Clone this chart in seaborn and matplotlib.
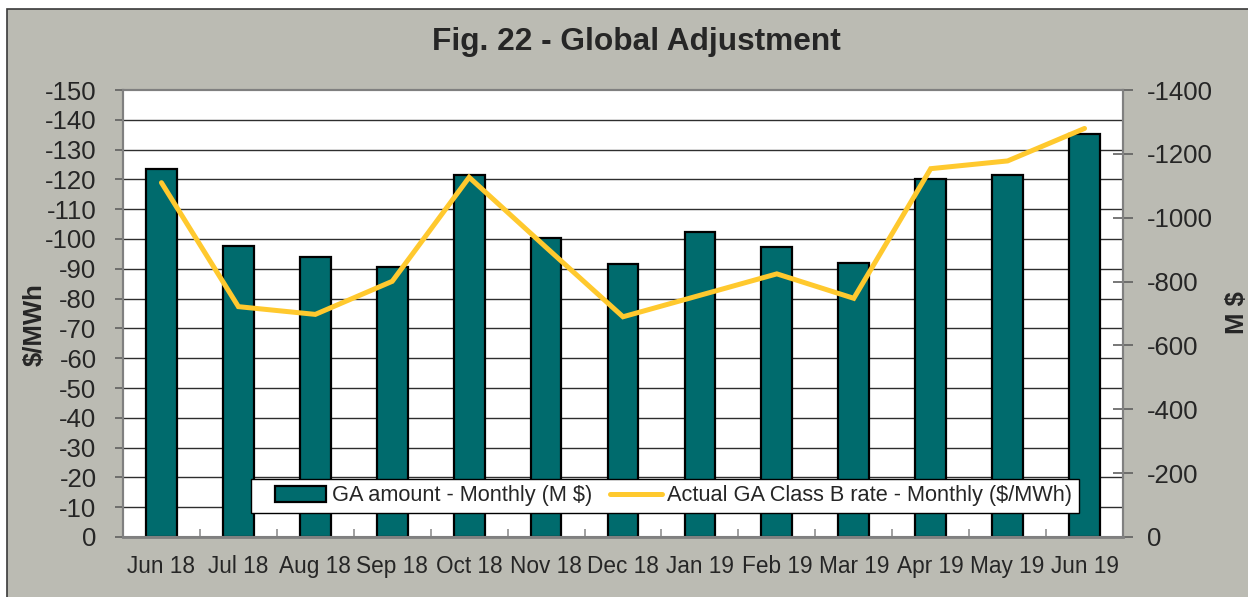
import numpy as np
import pandas as pd
import seaborn as sns
import matplotlib.pyplot as plt
from matplotlib.patches import Patch, Rectangle
from matplotlib.lines import Line2D
from matplotlib.legend_handler import HandlerPatch, HandlerLine2D

months = ['Jun 18', 'Jul 18', 'Aug 18', 'Sep 18', 'Oct 18', 'Nov 18', 'Dec 18',
          'Jan 19', 'Feb 19', 'Mar 19', 'Apr 19', 'May 19', 'Jun 19']
ga_amount = [-1152, -912, -877, -846, -1134, -936, -854, -956, -908, -858, -1120, -1133, -1262]
ga_rate = [-118.9, -77.3, -74.7, -85.8, -120.7, -97.2, -73.9, -81.1, -88.3, -80.1, -123.6, -126.2, -137.1]
left_ticks = list(range(0, -151, -10))
right_ticks = list(range(0, -1401, -200))

teal = '#006B6D'
gold = '#FFC92E'
bg = '#BBBBB3'

sns.set_style('white')
plt.rcParams['font.family'] = ['Liberation Sans', 'DejaVu Sans']

fig = plt.figure(figsize=(12.48, 5.97), dpi=100)
fig.patch.set_facecolor('white')
fig.add_artist(Rectangle((7 / 1248, -0.01), 1.1, (597 - 9) / 597 + 0.01,
                         transform=fig.transFigure, facecolor=bg,
                         edgecolor='#3a3a3a', linewidth=1.2, zorder=-10))

ax_bar = fig.add_axes([123 / 1248, 60 / 597, 1000 / 1248, 447 / 597])
ax_bar.set_facecolor('white')

df = pd.DataFrame({'month': months, 'amount': ga_amount, 'rate': ga_rate})
sns.barplot(data=df, x='month', y='amount', ax=ax_bar, color=teal, saturation=1,
            width=0.4, edgecolor='black', linewidth=1.6)

ax_line = ax_bar.twinx()
sns.lineplot(x=np.arange(len(months)), y=df['rate'], ax=ax_line, color=gold,
             linewidth=3.6, solid_joinstyle='miter')

# right axis (M $) for bars
ax_bar.set_ylim(0, -1400)
ax_bar.yaxis.tick_right()
ax_bar.yaxis.set_label_position('right')
ax_bar.set_yticks(right_ticks)
ax_bar.set_yticklabels([str(t) for t in right_ticks])
ax_bar.set_yticks(np.linspace(0, -1400, 16), minor=True)
ax_bar.tick_params(axis='y', which='major', direction='inout', length=14, width=1.2,
                   color='#606060', labelsize=18.5, pad=10)
ax_bar.tick_params(axis='y', which='minor', length=0)
ax_bar.yaxis.grid(True, which='minor', color='#2e2e2e', linewidth=1.0)
ax_bar.yaxis.grid(False, which='major')
ax_bar.set_axisbelow(True)
ax_bar.set_ylabel('M $', fontsize=18.5, fontweight='bold', rotation=90)
ax_bar.yaxis.set_label_coords(1.102, 0.503)

# x axis
ax_bar.set_xlim(-0.5, len(months) - 0.5)
ax_bar.set_xticks(range(len(months)))
ax_bar.set_xticklabels(months)
ax_bar.set_xticks(np.arange(0.5, len(months) - 0.5, 1), minor=True)
ax_bar.tick_params(axis='x', which='major', length=0, labelsize=16.3, pad=13)
ax_bar.tick_params(axis='x', which='minor', bottom=True, direction='in', length=6,
                   width=1.2, color='#909090')
ax_bar.set_xlabel('')

# left axis ($/MWh) for the rate line
ax_line.set_ylim(0, -150)
ax_line.yaxis.tick_left()
ax_line.yaxis.set_label_position('left')
ax_line.set_yticks(left_ticks)
ax_line.set_yticklabels([str(t) for t in left_ticks])
ax_line.tick_params(axis='y', direction='out', length=6, width=1.2, color='#606060',
                    labelsize=18.5, pad=13)
ax_line.set_ylabel('$/MWh', fontsize=18.5, fontweight='bold', rotation=90)
ax_line.yaxis.set_label_coords(-0.076, 0.475)
ax_line.set_xlim(-0.5, len(months) - 0.5)

for a in (ax_bar, ax_line):
    for s in a.spines.values():
        s.set_color('#808080')
        s.set_linewidth(1.5)
ax_bar.spines['bottom'].set_linewidth(2)

bar_handle = Patch(facecolor=teal, edgecolor='black', linewidth=1.6)
line_handle = Line2D([0], [0], color=gold, linewidth=3.6)
labels = ['GA amount - Monthly (M $)', 'Actual GA Class B rate - Monthly ($/MWh)']
leg = ax_line.legend([bar_handle, line_handle], labels, loc='lower left',
                     bbox_to_anchor=(0.128, 0.054), ncol=2, fontsize=15.7,
                     frameon=True, fancybox=False, edgecolor='black', framealpha=1,
                     borderpad=0.3, handlelength=3.15, handleheight=0.75,
                     handletextpad=0.25, columnspacing=0.05, borderaxespad=0,
                     handler_map={Patch: HandlerPatch(xpad=0.8),
                                  Line2D: HandlerLine2D(xpad=0.8)})
leg.get_frame().set_linewidth(1.0)

fig.text(636 / 1248, 1 - 42 / 597, 'Fig. 22 - Global Adjustment', ha='center',
         va='center', fontsize=22.8, fontweight='bold')

fig.savefig('out.png', dpi=100, facecolor=fig.get_facecolor())
